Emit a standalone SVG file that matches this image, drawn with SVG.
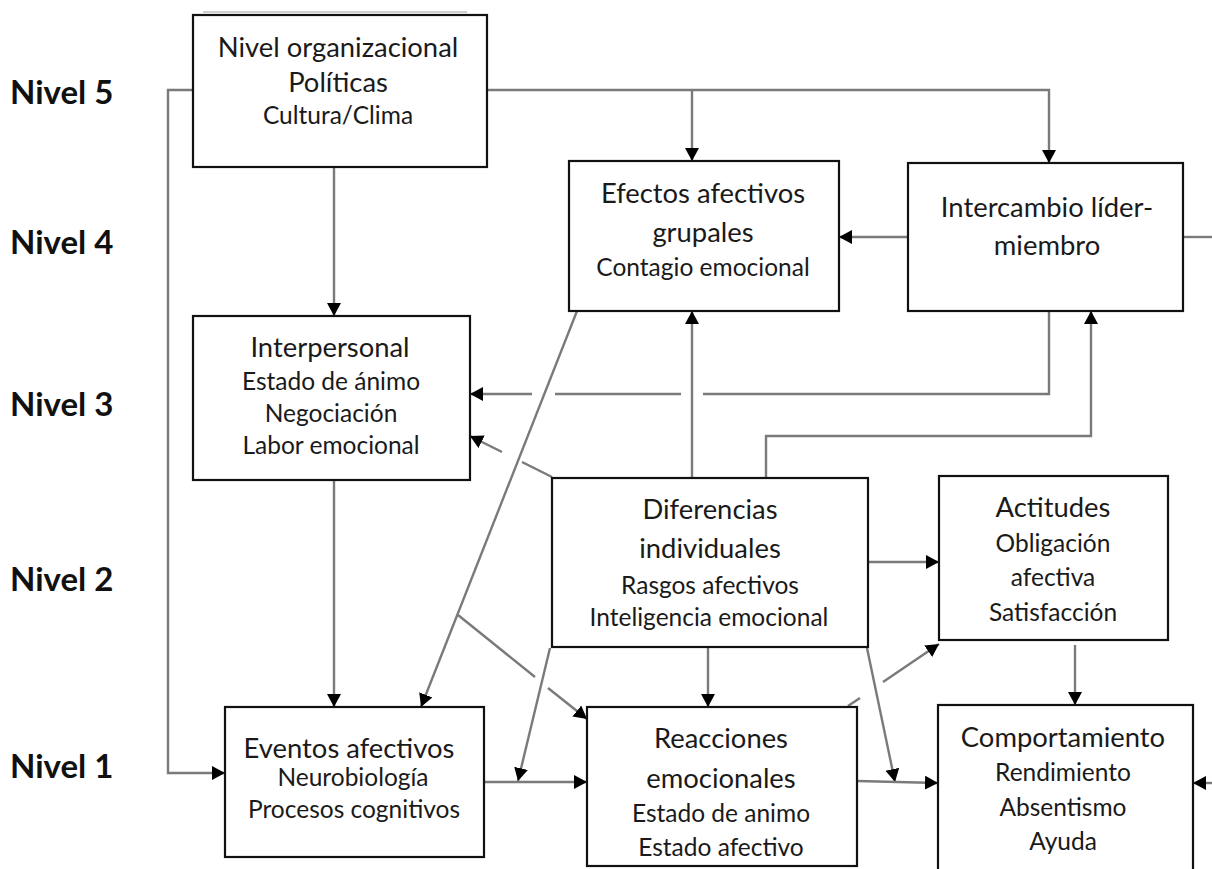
<svg xmlns="http://www.w3.org/2000/svg" width="1212" height="869" viewBox="0 0 1212 869">
  <style>
    .box { fill: #ffffff; stroke: #111111; stroke-width: 2.2; }
    .lvl { font-family: Lato, "Open Sans", sans-serif; font-weight: 700; font-size: 33px; fill: #111111; }
    .h { font-family: Lato, "Open Sans", sans-serif; font-size: 27.4px; fill: #1a1a1a; text-anchor: middle; }
    .d { font-family: Lato, "Open Sans", sans-serif; font-size: 24.5px; fill: #1a1a1a; text-anchor: middle; }
    .c { fill: none; stroke: #7a7a7a; stroke-width: 2.4; }
    .a { marker-end: url(#arrow); }
  </style>
  <defs>
    <marker id="arrow" markerUnits="userSpaceOnUse" markerWidth="16" markerHeight="16" refX="13" refY="7" orient="auto">
      <path d="M0,0 L13,7 L0,14 z" fill="#000000"/>
    </marker>
  </defs>

  <rect width="1212" height="869" fill="#ffffff"/>

  <!-- level labels -->
  <g id="levels">
    <text class="lvl" x="10" y="104">Nivel 5</text>
    <text class="lvl" x="10" y="254">Nivel 4</text>
    <text class="lvl" x="10" y="416">Nivel 3</text>
    <text class="lvl" x="10" y="591">Nivel 2</text>
    <text class="lvl" x="10" y="778">Nivel 1</text>
  </g>

  <!-- connectors -->
  <g id="connectors">
    <line x1="203" y1="12" x2="467" y2="12" stroke="#cfcfcf" stroke-width="2"/>
    <!-- organizational level to affective events -->
    <polyline class="c a" points="193,90 168,90 168,773 225,773"/>
    <!-- organizational level to leader-member exchange and group effects -->
    <polyline class="c a" points="487,90 1049,90 1049,163"/>
    <line class="c a" x1="692" y1="90" x2="692" y2="161"/>
    <!-- organizational level to interpersonal -->
    <line class="c a" x1="334" y1="167" x2="334" y2="316"/>
    <!-- interpersonal to affective events -->
    <line class="c a" x1="334" y1="480" x2="334" y2="707"/>
    <!-- leader-member exchange to group effects -->
    <line class="c a" x1="908" y1="237" x2="839" y2="237"/>
    <line class="c" x1="1183" y1="237" x2="1212" y2="237"/>
    <!-- incoming from the right into behaviour -->
    <line class="c a" x1="1212" y1="783" x2="1193" y2="783"/>
    <!-- leader-member exchange to interpersonal (with hops) -->
    <polyline class="c" points="1049,311 1049,394 703,394"/>
    <line class="c" x1="681" y1="394" x2="555" y2="394"/>
    <line class="c a" x1="532" y1="394" x2="470" y2="394"/>
    <!-- individual differences to group effects -->
    <line class="c a" x1="692" y1="478" x2="692" y2="311"/>
    <!-- individual differences to leader-member exchange -->
    <polyline class="c a" points="766,478 766,436 1091,436 1091,311"/>
    <!-- individual differences to interpersonal -->
    <line class="c" x1="552" y1="477" x2="522" y2="462"/>
    <line class="c a" x1="502" y1="452" x2="470" y2="436"/>
    <!-- group effects to affective events -->
    <line class="c a" x1="577" y1="311" x2="421" y2="707"/>
    <!-- branch to emotional reactions -->
    <line class="c" x1="458" y1="615" x2="535" y2="677"/>
    <line class="c a" x1="548" y1="688" x2="587" y2="719"/>
    <!-- individual differences to events/reactions link -->
    <line class="c a" x1="550" y1="648" x2="518" y2="781"/>
    <!-- affective events to emotional reactions -->
    <line class="c a" x1="484" y1="782" x2="587" y2="782"/>
    <!-- individual differences to emotional reactions -->
    <line class="c a" x1="708" y1="647" x2="708" y2="707"/>
    <!-- individual differences to reactions/behaviour link -->
    <line class="c a" x1="867" y1="648" x2="895" y2="782"/>
    <!-- emotional reactions to behaviour -->
    <line class="c a" x1="857" y1="781" x2="938" y2="783"/>
    <!-- emotional reactions to attitudes (with hop) -->
    <line class="c" x1="848" y1="706" x2="860" y2="698"/>
    <line class="c a" x1="883" y1="682" x2="939" y2="644"/>
    <!-- individual differences to attitudes -->
    <line class="c a" x1="868" y1="562" x2="939" y2="562"/>
    <!-- attitudes to behaviour -->
    <line class="c a" x1="1075" y1="645" x2="1075" y2="705"/>
  </g>

  <g id="nivel-organizacional">
    <rect class="box" x="193" y="15" width="294" height="152"/>
    <text class="h" x="338" y="56.5">Nivel organizacional</text>
    <text class="h" x="338" y="91.5">Políticas</text>
    <text class="d" x="338" y="123.5">Cultura/Clima</text>
  </g>

  <g id="efectos-grupales">
    <rect class="box" x="569" y="161" width="270" height="150"/>
    <text class="h" x="703" y="202.5">Efectos afectivos</text>
    <text class="h" x="703" y="241.5">grupales</text>
    <text class="d" x="703" y="275.5">Contagio emocional</text>
  </g>

  <g id="intercambio-lider-miembro">
    <rect class="box" x="908" y="163" width="275" height="148"/>
    <text class="h" x="1047" y="216.5">Intercambio líder-</text>
    <text class="h" x="1047" y="254.5">miembro</text>
  </g>

  <g id="interpersonal">
    <rect class="box" x="193" y="316" width="277" height="164"/>
    <text class="h" x="330" y="356.5">Interpersonal</text>
    <text class="d" x="331" y="389.5">Estado de ánimo</text>
    <text class="d" x="331" y="421.5">Negociación</text>
    <text class="d" x="331" y="453.5">Labor emocional</text>
  </g>

  <g id="diferencias-individuales">
    <rect class="box" x="552" y="478" width="316" height="169"/>
    <text class="h" x="710" y="518.5">Diferencias</text>
    <text class="h" x="710" y="557.5">individuales</text>
    <text class="d" x="710" y="593.5">Rasgos afectivos</text>
    <text class="d" x="709" y="625.5">Inteligencia emocional</text>
  </g>

  <g id="actitudes">
    <rect class="box" x="939" y="476" width="229" height="164"/>
    <text class="h" x="1053" y="516.5">Actitudes</text>
    <text class="d" x="1053" y="551.5">Obligación</text>
    <text class="d" x="1053" y="585.5">afectiva</text>
    <text class="d" x="1053" y="620.5">Satisfacción</text>
  </g>

  <g id="eventos-afectivos">
    <rect class="box" x="225" y="707" width="259" height="150"/>
    <text class="h" x="349" y="757.5">Eventos afectivos</text>
    <text class="d" x="353" y="785.5">Neurobiología</text>
    <text class="d" x="354" y="817.5">Procesos cognitivos</text>
  </g>

  <g id="reacciones-emocionales">
    <rect class="box" x="587" y="707" width="270" height="159"/>
    <text class="h" x="721" y="747.5">Reacciones</text>
    <text class="h" x="721" y="787.5">emocionales</text>
    <text class="d" x="721" y="821.5">Estado de animo</text>
    <text class="d" x="721" y="855.5">Estado afectivo</text>
  </g>

  <g id="comportamiento">
    <rect class="box" x="938" y="705" width="255" height="180"/>
    <text class="h" x="1063" y="746.5">Comportamiento</text>
    <text class="d" x="1063" y="780.5">Rendimiento</text>
    <text class="d" x="1063" y="815.5">Absentismo</text>
    <text class="d" x="1063" y="849.5">Ayuda</text>
  </g>
</svg>
